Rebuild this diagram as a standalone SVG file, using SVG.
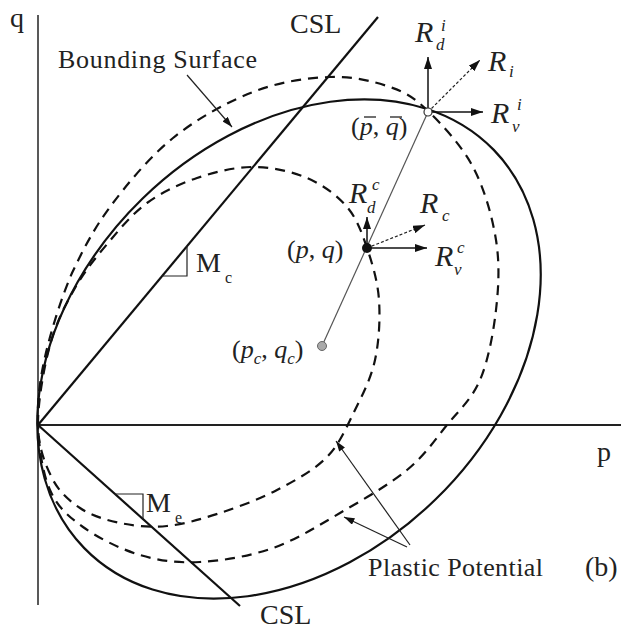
<svg xmlns="http://www.w3.org/2000/svg" width="621" height="631" viewBox="0 0 621 631">
<defs>
<marker id="ah" viewBox="0 0 12 8" refX="12" refY="4" markerWidth="12" markerHeight="8" markerUnits="userSpaceOnUse" orient="auto">
<path d="M0,0 L12,4 L0,8 z" fill="#111"/>
</marker>
<marker id="ahs" viewBox="0 0 12 8" refX="12" refY="4" markerWidth="11" markerHeight="7" markerUnits="userSpaceOnUse" orient="auto">
<path d="M0,0 L12,4 L0,8 z" fill="#111"/>
</marker>
</defs>
<style>
.ax{stroke:#222;fill:none}
.solid{stroke:#111;stroke-width:2.2;fill:none}
.dash{stroke:#111;stroke-width:2.2;fill:none;stroke-dasharray:10 7}
.thin{stroke:#222;stroke-width:1.2;fill:none}
.vec{stroke:#111;stroke-width:1.5;fill:none}
.dot{stroke:#222;stroke-width:1.2;fill:none;stroke-dasharray:3 2}
text{font-family:"Liberation Serif","Times New Roman",serif;fill:#222}
.lab{font-size:26px}
.big{font-size:28px}
.R{font-size:30px;font-style:italic}
.s{font-size:17px;font-style:italic}
.it{font-style:italic}
</style>

<g id="axes">
<line class="ax" x1="38" y1="15" x2="38" y2="605" stroke-width="1.5"/>
<line class="ax" x1="38" y1="425" x2="621" y2="425" stroke-width="2"/>
<text class="big" x="10" y="27">q</text>
<text class="big" x="597" y="461">p</text>
</g>

<g id="csl-lines">
<line class="solid" x1="38" y1="425" x2="378" y2="17"/>
<line class="solid" x1="38" y1="425" x2="240" y2="606"/>
<polyline class="thin" points="162,276 187,276 187,246"/>
<polyline class="thin" points="115,494 143,494 143,519"/>
<text class="big" x="290" y="33">CSL</text>
<text class="big" x="260" y="624">CSL</text>
<text class="big" x="196" y="272">M</text>
<text font-size="16" x="225" y="283">c</text>
<text class="big" x="146" y="512">M</text>
<text font-size="16" x="175" y="523">e</text>
</g>

<g id="bounding-surface">
<ellipse class="solid" cx="289" cy="349" rx="285.6" ry="210" transform="rotate(-44.2 289 349)"/>
</g>

<g id="plastic-potential-outer">
<path class="dash" d="M38,425 C37.2,402.8 39.3,382.3 45,357 C50.7,331.7 61.2,298 72,273 C82.8,250.5 93.2,229.5 110,207 C126.8,184.5 149.2,157.2 173,138 C196.8,118.8 226.8,102.2 253,92 C279.2,81.8 307.2,77.8 330,77 C352.8,76.2 373.7,81.3 390,87 C406.3,92.7 414.2,97.7 428,111 C441.8,124.3 461.7,145.5 473,167 C484.3,188.5 492.2,216.2 496,240 C499.8,263.8 498.7,286.7 496,310 C493.3,333.3 488.2,360.8 480,380 C471.8,399.2 459.2,410 447,425 C434.8,440 424.8,455.3 407,470 C389.2,484.7 362.3,500 340,513 C317.7,526 296.3,539.8 273,548 C249.7,556.2 222.2,560.8 200,562 C177.8,563.2 159.5,560.8 140,555 C120.5,549.2 98,537.8 83,527 C68,516.2 57.5,507 50,490 C42.5,473 38.8,447.2 38,425 Z"/>
</g>

<g id="plastic-potential-inner">
<path class="dash" d="M38,425 C37.7,402.8 43.8,367.8 50,345 C56.2,322.2 65.3,305 75,288 C84.7,271 96,257.2 108,243 C120,228.8 132.2,213.8 147,203 C161.8,192.2 179.3,184 197,178 C214.7,172 234.7,167 253,167 C271.3,167 291.3,171.3 307,178 C322.7,184.7 337,195.3 347,207 C357,218.7 361.7,232.5 367,248 C372.3,263.5 377.7,281.3 379,300 C380.3,318.7 379,341.7 375,360 C371,378.3 363,393.8 355,410 C347,426.2 340,443.7 327,457 C314,470.3 294.8,480.7 277,490 C259.2,499.3 238.3,507 220,513 C201.7,519 183.7,524.3 167,526 C150.3,527.7 134.5,526 120,523 C105.5,520 91.3,515.5 80,508 C68.7,500.5 59,491.8 52,478 C45,464.2 38.3,447.2 38,425 Z"/>
</g>

<g id="connectors">
<line class="thin" x1="187" y1="75" x2="232" y2="127" marker-end="url(#ahs)"/>
<line class="thin" x1="410" y1="545" x2="336" y2="441" marker-end="url(#ahs)"/>
<line class="thin" x1="407" y1="547" x2="344" y2="517" marker-end="url(#ahs)"/>
<line x1="322" y1="346" x2="428" y2="112" stroke="#555" stroke-width="1.2"/>
<line class="vec" x1="428" y1="112" x2="428" y2="57" marker-end="url(#ah)"/>
<line class="vec" x1="428" y1="112" x2="483" y2="112" marker-end="url(#ah)"/>
<line class="dot" x1="428" y1="112" x2="480" y2="60" marker-end="url(#ah)"/>
<line class="vec" x1="367" y1="248" x2="367" y2="217" marker-end="url(#ah)"/>
<line class="vec" x1="367" y1="248" x2="427" y2="248" marker-end="url(#ah)"/>
<line class="dot" x1="367" y1="248" x2="425" y2="225" marker-end="url(#ah)"/>
</g>

<g id="point-bar">
<circle cx="428" cy="112" r="4" fill="#fff" stroke="#333" stroke-width="1.2"/>
<text class="lab" x="351" y="135">(<tspan class="it">p</tspan>, <tspan class="it">q</tspan>)</text>
<line x1="364" y1="117" x2="376" y2="117" stroke="#222" stroke-width="1.3"/>
<line x1="390" y1="117" x2="402" y2="117" stroke="#222" stroke-width="1.3"/>
</g>

<g id="point-current">
<circle cx="367" cy="248" r="5" fill="#111"/>
<text class="lab" x="287" y="258">(<tspan class="it">p</tspan>, <tspan class="it">q</tspan>)</text>
</g>

<g id="point-center">
<circle cx="322" cy="346" r="4.5" fill="#aaa" stroke="#666" stroke-width="1"/>
<text class="lab" x="232" y="358">(<tspan class="it">p</tspan><tspan class="s" dy="6">c</tspan><tspan dy="-6">, </tspan><tspan class="it">q</tspan><tspan class="s" dy="6">c</tspan><tspan dy="-6">)</tspan></text>
</g>

<g id="vector-labels">
<text class="R" x="415" y="42">R</text>
<text class="s" x="441" y="31">i</text>
<text class="s" x="436" y="50">d</text>
<text class="R" x="488" y="71">R</text>
<text class="s" x="509" y="77">i</text>
<text class="R" x="491" y="123">R</text>
<text class="s" x="517" y="110">i</text>
<text class="s" x="512" y="132">v</text>
<text class="R" x="349" y="203">R</text>
<text class="s" x="372" y="190">c</text>
<text class="s" x="367" y="213">d</text>
<text class="R" x="420" y="213">R</text>
<text class="s" x="442" y="221">c</text>
<text class="R" x="435" y="266">R</text>
<text class="s" x="457" y="253">c</text>
<text class="s" x="454" y="275">v</text>
</g>

<g id="labels">
<text class="lab" x="58" y="68" textLength="199">Bounding Surface</text>
<text class="lab" x="368" y="576" textLength="175">Plastic Potential</text>
<text class="big" x="585" y="576">(b)</text>
</g>
</svg>
